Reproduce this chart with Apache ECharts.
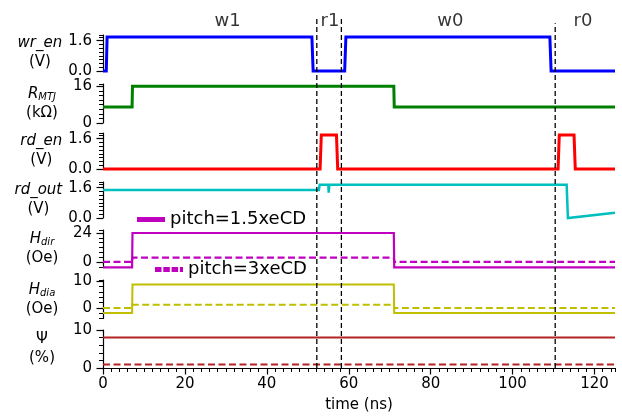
<!DOCTYPE html>
<html><head><meta charset="utf-8">
<script src="https://cdn.jsdelivr.net/npm/echarts@6/dist/echarts.min.js"></script>
<style>html,body{margin:0;padding:0;background:#fff}#c{width:622px;height:418px}</style>
</head><body><div id="c"></div>
<script>
// ---------- data (time in ns) ----------
const xMajorTicks = [0, 20, 40, 60, 80, 100, 120];
const xMinorStep = 2;

const wrEnT = [0, 0.8, 1.0, 51.0, 51.3, 59.0, 59.3, 109.1, 109.4, 125];
const wrEnV = [0, 0, 1.8, 1.8, 0, 0, 1.8, 1.8, 0, 0];

const rMtjT = [0, 7.1, 7.2, 71.0, 71.1, 125];
const rMtjV = [7, 7, 16, 16, 7, 7];

const rdEnT = [0, 53.0, 53.3, 57.0, 57.3, 111.1, 111.4, 115.0, 115.3, 125];
const rdEnV = [0, 0, 1.8, 1.8, 0, 0, 1.8, 1.8, 0, 0];

const rdOutT = [0, 52.7, 52.9, 55.0, 55.1, 55.25, 111.2, 111.3, 111.4, 113.2, 113.5, 125];
const rdOutV = [1.48, 1.48, 1.76, 1.76, 1.34, 1.76, 1.76, 1.66, 1.76, 1.76, 0.0, 0.28];

const hT = [0, 7.1, 7.2, 71.0, 71.1, 125];
const hDirPitch15 = [-4.4, -4.4, 24, 24, -4.4, -4.4];
const hDirPitch3 = [0, 0, 3.6, 3.6, 0, 0];
const hDiaPitch15 = [-1.9, -1.9, 8.8, 8.8, -1.9, -1.9];
const hDiaPitch3 = [0, 0, 1.2, 1.2, 0, 0];

const psiT = [0, 125];
const psiPitch15 = [8, 8];
const psiPitch3 = [0.9, 0.9];

const phaseNames = ['w1', 'r1', 'w0', 'r0'];
const phaseCenters = [30.4, 55.4, 84.8, 117.2];
const boundaryTimes = [52.2, 58.2, 110.4];
const boundaryTops = [1, 1, 0.988];

const legendNames = ['pitch=1.5xeCD', 'pitch=3xeCD'];

// ---------- panel layout ----------
const FONT = 'DejaVu Sans';
const panels = [
  {name: '{i|wr_en}\n{n|(V)}', min: 0, max: 1.9, major: [0, 1.6], minorStep: 0.2, dec: 1, top: 35, height: 36},
  {name: '{i|R}{s|MTJ}\n{n|(kΩ)}', min: 0, max: 17, major: [0, 16], minorStep: 2, dec: 0, top: 84, height: 39},
  {name: '{i|rd_en}\n{n|(V)}', min: 0, max: 1.9, major: [0, 1.6], minorStep: 0.2, dec: 1, top: 133, height: 36},
  {name: '{i|rd_out}\n{n|(V)}', min: 0, max: 1.9, major: [0, 1.6], minorStep: 0.2, dec: 1, top: 182, height: 36},
  {name: '{i|H}{s|dir}\n{n|(Oe)}', min: -4, max: 26.5, major: [0, 24], minorStep: 4, dec: 0, top: 230, height: 36.8},
  {name: '{i|H}{s|dia}\n{n|(Oe)}', min: -4, max: 10.5, major: [0, 10], minorStep: 2, dec: 0, top: 280, height: 38.5},
  {name: '{n|Ψ}\n{n|(%)}', min: 0, max: 10, major: [0, 10], minorStep: 2, dec: 0, top: 330, height: 38}
];
const LEFT = 103, WIDTH = 512;

function pts(t, v) { return t.map((x, i) => [x, v[i]]); }
function isMajor(list, v) { return list.some(m => Math.abs(m - v) < 1e-6); }

const grids = [], xAxes = [], yAxes = [], series = [];
const rich = {
  i: {fontFamily: FONT, fontStyle: 'italic', fontSize: 15, color: '#000', lineHeight: 19},
  s: {fontFamily: FONT, fontStyle: 'italic', fontSize: 10, color: '#000', lineHeight: 19, padding: [7, 0, 0, 0]},
  n: {fontFamily: FONT, fontSize: 15, color: '#000', lineHeight: 19}
};
panels.forEach((p, k) => {
  grids.push({left: LEFT, width: WIDTH, top: p.top, height: p.height});
  const isLast = k === panels.length - 1;
  xAxes.push({
    type: 'value', gridIndex: k, min: 0, max: 125, interval: xMinorStep, show: isLast, position: 'bottom',
    axisLine: {show: true, onZero: false, lineStyle: {color: '#000', width: 1.2}},
    axisTick: {show: true, length: 4, lineStyle: {color: '#000', width: 1}},
    axisLabel: {show: true, fontFamily: FONT, fontSize: 15, color: '#000', margin: 9,
      showMinLabel: true, showMaxLabel: true,
      formatter: v => isMajor(xMajorTicks, v) ? String(Math.round(v)) : ''},
    splitLine: {show: false},
    name: isLast ? 'time (ns)' : '', nameLocation: 'middle', nameGap: 37,
    nameTextStyle: {fontFamily: FONT, fontSize: 15, color: '#000', verticalAlign: 'middle'}
  });
  yAxes.push({
    type: 'value', gridIndex: k, min: p.min, max: p.max, interval: p.minorStep, position: 'left',
    axisLine: {show: true, onZero: false, lineStyle: {color: '#000', width: 1.2}},
    axisTick: {show: true, length: 4, lineStyle: {color: '#000', width: 1}},
    axisLabel: {show: true, fontFamily: FONT, fontSize: 15, color: '#000', margin: 11,
      showMinLabel: true, showMaxLabel: true,
      formatter: v => isMajor(p.major, v) ? Number(v).toFixed(p.dec) : ''},
    splitLine: {show: false},
    name: p.name, nameLocation: 'middle', nameRotate: 0, nameGap: 61,
    nameTextStyle: {align: 'center', verticalAlign: 'middle', rich: rich}
  });
  // longer major ticks on a companion axis
  yAxes.push({
    type: 'value', gridIndex: k, min: p.min, max: p.max, position: 'left',
    axisLine: {show: false},
    axisTick: {show: true, length: 6.5, customValues: p.major, lineStyle: {color: '#000', width: 1.2}},
    axisLabel: {show: false}, splitLine: {show: false}
  });
});
xAxes.push({
  type: 'value', gridIndex: 6, min: 0, max: 125, position: 'bottom',
  axisLine: {show: false},
  axisTick: {show: true, length: 6.5, customValues: xMajorTicks, lineStyle: {color: '#000', width: 1.2}},
  axisLabel: {show: false}, splitLine: {show: false}
});
// overlay grid for phase markers
grids.push({left: LEFT, width: WIDTH, top: 19, height: 349});
xAxes.push({type: 'value', gridIndex: 7, min: 0, max: 125, show: false});
yAxes.push({type: 'value', gridIndex: 7, min: 0, max: 1, show: false});

function line(name, k, t, v, color, width, dash) {
  series.push({
    name: name, type: 'line', xAxisIndex: k, yAxisIndex: 2 * k, data: pts(t, v),
    symbol: 'none', showSymbol: false, animation: false, silent: true, z: 2, clip: false,
    lineStyle: {color: color, width: width, type: dash || 'solid', join: 'miter'},
    itemStyle: {color: color}
  });
}
const DASH = [7, 3.5];
line('wr_en', 0, wrEnT, wrEnV, '#0000ff', 3);
line('R_MTJ', 1, rMtjT, rMtjV, '#008000', 3);
line('rd_en', 2, rdEnT, rdEnV, '#ff0000', 3);
line('rd_out', 3, rdOutT, rdOutV, '#00bfbf', 2.5);
line(legendNames[0], 4, hT, hDirPitch15, '#bf00bf', 2.2);
line(legendNames[1], 4, hT, hDirPitch3, '#bf00bf', 2.2, DASH);
line('H_dia 1.5', 5, hT, hDiaPitch15, '#bfbf00', 2);
line('H_dia 3', 5, hT, hDiaPitch3, '#bfbf00', 2, DASH);
line('psi 1.5', 6, psiT, psiPitch15, '#b22222', 2);
line('psi 3', 6, psiT, psiPitch3, '#b22222', 2, DASH);

boundaryTimes.forEach((t, i) => {
  series.push({
    name: 'boundary' + i, type: 'line', xAxisIndex: 8, yAxisIndex: 14,
    data: [[t, 0], [t, boundaryTops[i]]], symbol: 'none', animation: false, silent: true, z: 10,
    lineStyle: {color: '#000', width: 1.3, type: [5, 3]}
  });
});
series.push({
  name: 'phases', type: 'scatter', xAxisIndex: 8, yAxisIndex: 14, symbolSize: 1, silent: true, animation: false,
  itemStyle: {color: 'rgba(0,0,0,0)'},
  data: phaseNames.map((n, i) => ({name: n, value: [phaseCenters[i], 0.994]})),
  label: {show: true, position: 'inside', formatter: p => p.name, fontFamily: FONT, fontSize: 18, color: '#000'}
});

const legendText = {fontFamily: FONT, fontSize: 18, color: '#000'};
const solidIcon = 'path://M0,0H28V5H0Z';
const dashIcon = 'path://M0,0H6.5V5H0Z M8.3,0H14.8V5H8.3Z M16.6,0H23.1V5H16.6Z M24.9,0H28V5H24.9Z';
const option = {
  animation: false,
  backgroundColor: '#fff',
  textStyle: {fontFamily: FONT},
  grid: grids, xAxis: xAxes, yAxis: yAxes, series: series,
  legend: [
    {data: [{name: legendNames[0], icon: solidIcon}], left: 137, top: 210.5, padding: 0, itemWidth: 28, itemHeight: 5,
     itemGap: 0, selectedMode: false, textStyle: legendText},
    {data: [{name: legendNames[1], icon: dashIcon}], left: 155, top: 260.5, padding: 0, itemWidth: 28, itemHeight: 5,
     itemGap: 0, selectedMode: false, textStyle: legendText}
  ]
};
const chart = echarts.init(document.getElementById('c'), null, {renderer: 'canvas'});
chart.setOption(option);
</script></body></html>
